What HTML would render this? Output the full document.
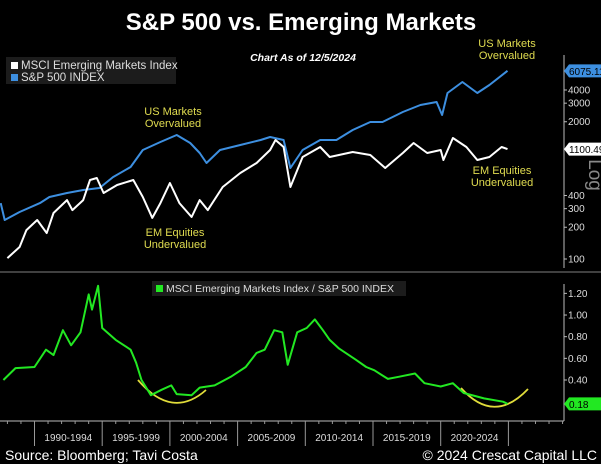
<!DOCTYPE html>
<html><head><meta charset="utf-8"><style>
html,body{margin:0;padding:0;background:#000;}
svg{display:block;font-family:"Liberation Sans",sans-serif;}
</style></head><body>
<svg id="c" width="601" height="464" viewBox="0 0 601 464">
<rect x="0" y="0" width="601" height="464" fill="#000"/>
<text x="301" y="30" text-anchor="middle" fill="#fff" font-size="24" font-weight="bold">S&amp;P 500 vs. Emerging Markets</text>
<text x="303" y="61" text-anchor="middle" fill="#fff" font-size="10.5" font-weight="bold" font-style="italic">Chart As of 12/5/2024</text>
<g>
<rect x="6" y="57" width="170" height="27" fill="#1c1c1c"/>
<rect x="11" y="62" width="7" height="7" fill="#fff"/>
<text x="21" y="69" fill="#ddd" font-size="11.5">MSCI Emerging Markets Index</text>
<rect x="11" y="74" width="7" height="7" fill="#3d8fe0"/>
<text x="21" y="81" fill="#ddd" font-size="11.5">S&amp;P 500 INDEX</text>
</g>
<line x1="0" y1="272" x2="601" y2="272" stroke="#555" stroke-width="1.5"/>
<g>
<rect x="152" y="281" width="254" height="15" fill="#1c1c1c"/>
<rect x="156" y="285" width="7" height="7" fill="#22e822"/>
<text x="166" y="292" fill="#ddd" font-size="10.5">MSCI Emerging Markets Index / S&amp;P 500 INDEX</text>
</g>
<g fill="#e0dc50" font-size="11" text-anchor="middle">
<text x="173" y="115"><tspan x="173">US Markets</tspan><tspan x="173" dy="12">Overvalued</tspan></text>
<text x="175" y="236"><tspan x="175">EM Equities</tspan><tspan x="175" dy="12">Undervalued</tspan></text>
<text x="507" y="47"><tspan x="507">US Markets</tspan><tspan x="507" dy="12">Overvalued</tspan></text>
<text x="502" y="174"><tspan x="502">EM Equities</tspan><tspan x="502" dy="12">Undervalued</tspan></text>
</g>
<path d="M138 380 Q172 420 206 390" fill="none" stroke="#e0dc3a" stroke-width="1.8"/>
<path d="M461 388 Q494 425 528 389" fill="none" stroke="#e0dc3a" stroke-width="1.8"/>
<text x="589" y="175" fill="#888" font-size="19" text-anchor="middle" transform="rotate(90 589 175)">Log</text>
<text x="5" y="460" fill="#fff" font-size="14">Source: Bloomberg; Tavi Costa</text>
<text x="597" y="460" fill="#fff" font-size="14" text-anchor="end">© 2024 Crescat Capital LLC</text>
</svg>
<script>
const spYears=[1987.5,1987.8,1988.9,1990.4,1991.1,1992.4,1993.6,1994.8,1995.8,1997.1,1998.0,1999.3,2000.5,2001.5,2002.2,2002.7,2003.7,2005.2,2006.7,2007.4,2008.4,2008.9,2009.8,2011.1,2012.3,2013.5,2014.8,2015.7,2017.2,2018.5,2019.7,2020.1,2020.5,2021.6,2022.7,2023.6,2024.93];
const spValues=[339,234,279,339,387,422,451,471,598,745,1079,1285,1496,1258,1011,813,1079,1205,1343,1433,1343,729,1079,1343,1343,1670,1990,1990,2474,2884,3076,2317,3745,4761,3745,4457,6075];
const emYears=[1988.0,1988.9,1989.4,1990.2,1990.9,1991.4,1992.4,1992.8,1993.6,1994.1,1994.6,1995.1,1996.1,1997.3,1998.0,1998.7,1999.3,2000.0,2000.7,2001.6,2002.2,2002.8,2003.9,2005.2,2006.4,2007.4,2007.8,2008.4,2008.9,2009.8,2011.1,2011.8,2013.5,2014.8,2015.9,2017.2,2018.0,2019.0,2020.0,2020.2,2020.9,2021.9,2022.7,2023.6,2024.5,2024.93];
const emValues=[102,130,188,234,176,273,362,291,362,561,586,422,503,561,387,245,339,525,339,250,362,291,481,653,813,1079,1343,1153,481,927,1153,927,1033,968,729,1011,1258,1011,1079,867,1403,1153,867,927,1153,1100];
const ratioYears=[1987.7,1988.6,1990.0,1990.85,1991.4,1992.1,1992.7,1993.4,1994.0,1994.25,1994.7,1995.0,1996.0,1997.1,1997.5,1997.9,1998.6,1999.4,2000.1,2000.5,2001.6,2002.2,2003.3,2004.5,2005.6,2006.4,2007.0,2007.7,2008.3,2008.7,2009.4,2010.1,2010.7,2011.3,2011.8,2012.5,2013.7,2014.5,2015.1,2016.1,2016.9,2018.1,2018.8,2020.0,2020.9,2021.7,2023.2,2024.6,2024.93];
const ratioValues=[0.40,0.51,0.52,0.68,0.63,0.86,0.72,0.84,1.19,1.05,1.27,0.88,0.77,0.68,0.56,0.40,0.26,0.31,0.35,0.27,0.26,0.33,0.35,0.43,0.52,0.65,0.68,0.86,0.84,0.54,0.84,0.88,0.96,0.86,0.77,0.69,0.59,0.52,0.49,0.41,0.43,0.46,0.37,0.34,0.37,0.28,0.23,0.20,0.18];
const topTicks=[100,200,300,400,2000,3000,4000];
const ratioTicks=[0.40,0.60,0.80,1.00,1.20];
const periodLabels=["1990-1994","1995-1999","2000-2004","2005-2009","2010-2014","2015-2019","2020-2024"];
const spLast="6075.11", emLast="1100.49", ratioLast="0.18";

const NS="http://www.w3.org/2000/svg";
const svg=document.getElementById('c');
function mk(tag,attrs,parent){const e=document.createElementNS(NS,tag);for(const k in attrs)e.setAttribute(k,attrs[k]);(parent||svg).appendChild(e);return e;}
const xS=y=>34.5+(y-1990)*13.54;
const yTop=v=>259-(Math.log10(v)-2)*105.5;
const yBot=v=>380-(v-0.40)*108.3;
const AX=564;

let a=mk('line',{x1:AX,y1:55,x2:AX,y2:268,stroke:'#bbb','stroke-width':1});


topTicks.forEach(t=>{const y=yTop(t);
 const l=mk('line',{x1:AX,y1:y,x2:AX+3,y2:y,stroke:'#bbb'});
 
 
 const tx=mk('text',{x:AX+4,y:y+3.5,fill:'#ddd','font-size':10});tx.textContent=t;
 
 });
let b=mk('line',{x1:AX,y1:284,x2:AX,y2:421,stroke:'#bbb'});


ratioTicks.forEach(t=>{const y=yBot(t);
 const l=mk('line',{x1:AX,y1:y,x2:AX+3,y2:y,stroke:'#bbb'});
 
 
 const tx=mk('text',{x:AX+4,y:y+3.5,fill:'#ddd','font-size':10});tx.textContent=t.toFixed(2);
 
 });
let xa=mk('line',{x1:0,y1:421,x2:AX,y2:421,stroke:'#bbb'});


for(let yr=1988;yr<=2029;yr++){const x=xS(yr);if(x>AX)break;
 const big=(yr%5===0)&&yr>=1990&&yr<=2025;
 const l=mk('line',{x1:x,y1:421,x2:x,y2:big?446:424,stroke:'#999'});
 
 }
periodLabels.forEach((p,i)=>{const x=xS(1990+i*5+2.5);
 const t=mk('text',{x:x,y:441,fill:'#ddd','font-size':10,'text-anchor':'middle'});t.textContent=p;
 
 });

function line(xs,vs,ys,color,name){
 const d=xs.map((x,i)=>(i?'L':'M')+xS(x).toFixed(1)+' '+ys(vs[i]).toFixed(1)).join(' ');
 const p=mk('path',{d:d,fill:'none',stroke:color,'stroke-width':2,'stroke-linejoin':'round'});
 
 }
line(spYears,spValues,yTop,'#3d8fe0','sp500-line');
line(emYears,emValues,yTop,'#ffffff','msci-em-line');
line(ratioYears,ratioValues,yBot,'#22e822','ratio-line');

function pill(y,txt,bg,fg,w,name){
 const r=mk('path',{d:`M${AX} ${y} L${AX+5} ${y-6.5} L${AX+w} ${y-6.5} L${AX+w} ${y+6.5} L${AX+5} ${y+6.5} Z`,fill:bg});
 
 
 const t=mk('text',{x:AX+5,y:y+4,fill:fg,'font-size':10});t.textContent=txt;
 
 }
pill(yTop(spValues[spValues.length-1]),spLast,'#3d8fe0','#000',40,'sp500-last-value');
pill(yTop(emValues[emValues.length-1]),emLast,'#fff','#000',40,'msci-em-last-value');
pill(yBot(ratioValues[ratioValues.length-1]),ratioLast,'#22e822','#000',40,'ratio-last-value');
</script>
</body></html>
